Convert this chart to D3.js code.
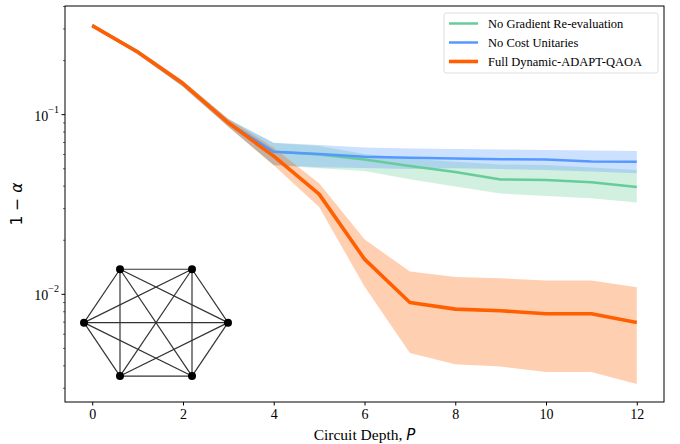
<!DOCTYPE html>
<html lang="en">
<head>
<meta charset="utf-8">
<title>1 - alpha vs circuit depth</title>
<script src="https://d3js.org/d3.v7.min.js"></script>
<style>
  body { margin: 0; background: white; }
  text { font-family: "Liberation Serif", "Times New Roman", serif; fill: #000; }
  .math { font-family: "DejaVu Sans", sans-serif; }
</style>
</head>
<body>
<div id="chart"></div>
<script>

// data
var depth = [0, 1, 2, 3, 4, 5, 6, 7, 8, 9, 10, 11, 12];

var noGradMean = [0.311, 0.222, 0.148, 0.0895, 0.0617, 0.0597, 0.0560, 0.0515, 0.0476, 0.0433, 0.0430, 0.0418, 0.0393];
var noGradHigh = [0.318, 0.228, 0.153, 0.094, 0.0690, 0.0665, 0.0600, 0.0565, 0.0544, 0.0525, 0.0521, 0.0505, 0.0489];
var noGradLow  = [0.305, 0.216, 0.142, 0.085, 0.0520, 0.0500, 0.0482, 0.0434, 0.0396, 0.0362, 0.0350, 0.0340, 0.0322];

var noCostMean = [0.311, 0.222, 0.148, 0.0895, 0.0617, 0.0600, 0.0579, 0.0572, 0.0567, 0.0562, 0.0560, 0.0545, 0.0543];
var noCostHigh = [0.318, 0.228, 0.153, 0.094, 0.0693, 0.0673, 0.0653, 0.0645, 0.0640, 0.0636, 0.0631, 0.0627, 0.0623];
var noCostLow  = [0.305, 0.216, 0.142, 0.085, 0.0521, 0.0506, 0.0501, 0.0495, 0.0500, 0.0495, 0.0489, 0.0479, 0.0469];

var fullMean = [0.311, 0.222, 0.148, 0.0895, 0.0584, 0.0359, 0.0156, 0.00895, 0.00822, 0.00805, 0.00774, 0.00774, 0.00693];
var fullHigh = [0.318, 0.228, 0.153, 0.094, 0.0650, 0.0412, 0.0201, 0.0133, 0.0124, 0.0122, 0.01186, 0.01186, 0.01088];
var fullLow  = [0.305, 0.216, 0.142, 0.085, 0.0520, 0.0304, 0.0110, 0.00469, 0.00406, 0.00394, 0.00367, 0.00367, 0.00315];

var seriesNames = ["No Gradient Re-evaluation", "No Cost Unitaries", "Full Dynamic-ADAPT-QAOA"];
var seriesColors = ["#66cc99", "#5599ff", "#ff5f00"];
var xTicks = [0, 2, 4, 6, 8, 10, 12];
var yMajor = [0.1, 0.01];
var yMajorExp = ["\u22121", "\u22122"];

// inset graph: 6 nodes, every pair joined
var graphNodes = [0, 1, 2, 3, 4, 5];

var W = 680, H = 444;
var margin = {top: 6, right: 16, bottom: 42, left: 65};
var iw = W - margin.left - margin.right,
    ih = H - margin.top - margin.bottom;
var serif = "'Liberation Serif', 'Times New Roman', serif";

var svg = d3.select("#chart").append("svg")
  .attr("width", W).attr("height", H);

var g = svg.append("g")
  .attr("transform", "translate(" + margin.left + "," + margin.top + ")");

var x = d3.scaleLinear().domain([-0.6, 12.6]).range([0, iw]);
var y = d3.scaleLog().domain([0.0025, 0.40]).range([ih, 0]);

var series = [
  {mean: noGradMean, low: noGradLow, high: noGradHigh, w: 2.5},
  {mean: noCostMean, low: noCostLow, high: noCostHigh, w: 2.5},
  {mean: fullMean, low: fullLow, high: fullHigh, w: 3.6}
];

g.append("clipPath").attr("id", "clip")
  .append("rect").attr("width", iw).attr("height", ih);
var plot = g.append("g").attr("clip-path", "url(#clip)");

var area = function(s) {
  return d3.area()
    .x(function(d, i) { return x(depth[i]); })
    .y0(function(d, i) { return y(s.low[i]); })
    .y1(function(d, i) { return y(s.high[i]); })(depth);
};
var line = function(s) {
  return d3.line()
    .x(function(d, i) { return x(depth[i]); })
    .y(function(d, i) { return y(s.mean[i]); })(depth);
};

series.forEach(function(s, k) {
  plot.append("path")
    .attr("d", area(s))
    .attr("fill", seriesColors[k])
    .attr("fill-opacity", 0.3);
});
series.forEach(function(s, k) {
  plot.append("path")
    .attr("d", line(s))
    .attr("fill", "none")
    .attr("stroke", seriesColors[k])
    .attr("stroke-width", s.w)
    .attr("stroke-linejoin", "round");
});

// inset complete graph
var gx = d3.scaleLinear().domain([-1, 1]).range([84, 228]);
var gy = d3.scaleLinear().domain([-1, 1]).range([384.3, 261]);
var nodePos = graphNodes.map(function(n) {
  var a = n * Math.PI / 3;
  return [gx(Math.cos(a)) - margin.left, gy(Math.sin(a)) - margin.top];
});
var edges = [];
graphNodes.forEach(function(a) {
  graphNodes.forEach(function(b) { if (a < b) edges.push([a, b]); });
});
var inset = g.append("g");
inset.selectAll("line").data(edges).enter().append("line")
  .attr("x1", function(e) { return nodePos[e[0]][0]; })
  .attr("y1", function(e) { return nodePos[e[0]][1]; })
  .attr("x2", function(e) { return nodePos[e[1]][0]; })
  .attr("y2", function(e) { return nodePos[e[1]][1]; })
  .attr("stroke", "#333")
  .attr("stroke-width", 1.2);
inset.selectAll("circle").data(nodePos).enter().append("circle")
  .attr("cx", function(p) { return p[0]; })
  .attr("cy", function(p) { return p[1]; })
  .attr("r", 4)
  .attr("fill", "#000");

// axes
var xAxis = g.append("g")
  .attr("transform", "translate(0," + ih + ")")
  .call(d3.axisBottom(x).tickValues(xTicks).tickSize(3.5).tickPadding(4));
xAxis.attr("font-family", serif).attr("font-size", 14);
xAxis.select(".domain").remove();
xAxis.selectAll("text")
  .style("font-family", serif)
  .style("font-size", "14px")
  .attr("fill", "#000");

var minorVals = [];
[0.001, 0.01, 0.1].forEach(function(dec) {
  for (var m = 2; m <= 9; m++) {
    var v = dec * m;
    if (v >= y.domain()[0] && v <= y.domain()[1]) minorVals.push(v);
  }
});
var yAxis = g.append("g")
  .call(d3.axisLeft(y).tickValues(minorVals).tickSize(2).tickFormat(""));
yAxis.select(".domain").remove();
yAxis.selectAll("line").attr("stroke-width", 0.6);

var yMaj = g.append("g")
  .call(d3.axisLeft(y).tickValues(yMajor).tickSize(3.5).tickFormat(""));
yMaj.attr("font-family", serif);
yMaj.select(".domain").remove();
yMaj.selectAll(".tick").each(function(d, i) {
  var t = d3.select(this).append("text")
    .attr("x", -6)
    .attr("y", 6)
    .attr("text-anchor", "end")
    .attr("fill", "#000")
    .style("font-family", serif)
    .style("font-size", "14px");
  t.append("tspan").text("10");
  t.append("tspan").attr("dy", -8).style("font-size", "10px").text(yMajorExp[i]);
});

g.append("rect")
  .attr("width", iw).attr("height", ih)
  .attr("fill", "none").attr("stroke", "#000").attr("stroke-width", 1);

// axis labels
var xl = svg.append("text")
  .attr("x", margin.left + iw / 2)
  .attr("y", 440)
  .attr("text-anchor", "middle")
  .style("font-size", "15.5px");
xl.append("tspan").text("Circuit Depth, ");
xl.append("tspan").attr("class", "math").style("font-style", "italic").style("font-size", "15px").text("P");

var yl = svg.append("text")
  .attr("transform", "translate(22," + (margin.top + ih / 2) + ") rotate(-90)")
  .attr("text-anchor", "middle")
  .attr("class", "math")
  .style("font-size", "15.5px");
yl.append("tspan").text("1 \u2212 ");
yl.append("tspan").style("font-style", "italic").text("\u03b1");

// legend
var lg = svg.append("g").attr("transform", "translate(444,13)");
lg.append("rect")
  .attr("width", 214).attr("height", 60)
  .attr("rx", 2.5)
  .attr("fill", "#fff").attr("fill-opacity", 0.8)
  .attr("stroke", "#d6d6d6").attr("stroke-width", 0.8);
seriesNames.forEach(function(name, k) {
  var row = lg.append("g").attr("transform", "translate(0," + (10.5 + k * 19) + ")");
  row.append("line")
    .attr("x1", 5).attr("x2", 34)
    .attr("stroke", seriesColors[k])
    .attr("stroke-width", series[k].w);
  row.append("text")
    .attr("x", 44).attr("y", 4.5)
    .style("font-size", "12.5px")
    .text(name);
});

</script>
</body>
</html>
